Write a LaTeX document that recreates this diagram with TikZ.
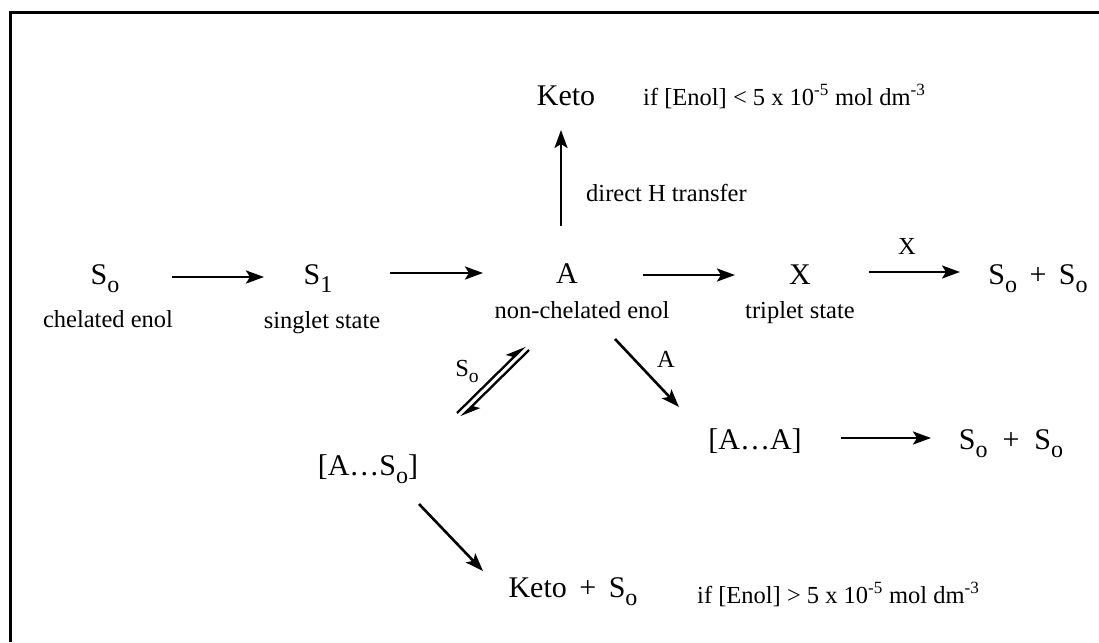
\documentclass[tikz,border=0pt]{standalone}
\usepackage{fontspec}
\usepackage{graphicx}
\setmainfont{Liberation Serif}
\usetikzlibrary{arrows.meta}
\tikzset{
  big/.style={inner sep=0pt, anchor=base, font=\fontsize{30}{32}\selectfont},
  small/.style={inner sep=0pt, anchor=base, font=\fontsize{24.5}{26}\selectfont},
  arr/.style={line width=2.6pt, -{Stealth[length=18pt,width=13pt,inset=4pt]}},
  harp/.style={line width=2.3pt, -{Stealth[left,length=17pt,width=14pt,inset=4pt]}},
  frame/.style={line width=3pt}
}
\newcommand{\sbs}[1]{\raisebox{-0.28em}{\scalebox{0.8}{#1}}}
\newcommand{\So}{S\sbs{o}}
\begin{document}
\begin{tikzpicture}[x=1pt,y=-1pt]
\useasboundingbox (0,0) rectangle (1099,642);
\draw[frame] (10,642) -- (10,13) -- (1099,13);

% main row
\node[big] (so) at (105,284) {\So};
\node[small] (soL) at (108,327) {chelated enol};
\node[big] (s1) at (318,284) {S\sbs{1}};
\node[small] (s1L) at (322,328) {singlet state};
\node[big] (a) at (567,283) {A};
\node[small] (aL) at (582,318) {non-chelated enol};
\node[big] (x) at (800,284) {X};
\node[small] (xL) at (800,318) {triplet state};
\node[big] (sosoA) at (1038,284) {\So\ \,+\, \So};
\node[small] (xlab) at (907,254) {X};

% top
\node[big] (keto) at (566,105) {Keto};
\node[small, anchor=base west] (condA) at (643,105) {if [Enol] {<} 5 x 10\textsuperscript{-5} mol dm\textsuperscript{-3}};
\node[small, anchor=base west] (dht) at (586,201) {direct H transfer};

% lower right
\node[big] (aa) at (755,449) {[A\ldots A]};
\node[big] (sosoB) at (1011,449) {\So\ \ + \ \So};
\node[small] (alab) at (666,367) {A};

% lower left
\node[big] (aso) at (368,475) {[A\ldots\So]};
\node[small] (solab) at (467,376) {\So};
\node[big] (ketoso) at (573,597) {Keto \,+\, \So};
\node[small, anchor=base west] (condB) at (697,603) {if [Enol] {>} 5 x 10\textsuperscript{-5} mol dm\textsuperscript{-3}};

% arrow end points
\coordinate (p1s) at (172,277); \coordinate (p1e) at (264,277);
\coordinate (p2s) at (390,273); \coordinate (p2e) at (483,273);
\coordinate (p3s) at (643,275); \coordinate (p3e) at (735,275);
\coordinate (p4s) at (869,272); \coordinate (p4e) at (960,272);
\coordinate (p5s) at (561,226); \coordinate (p5e) at (561,130);
\coordinate (p6s) at (615,339); \coordinate (p6e) at (679,407);
\coordinate (p7s) at (841,438); \coordinate (p7e) at (931,438);
\coordinate (p8s) at (419,504); \coordinate (p8e) at (483,571);
\coordinate (e1s) at (457,413); \coordinate (e1e) at (525,346);
\coordinate (e2s) at (529,350); \coordinate (e2e) at (461,417);

\draw[arr] (p1s) -- (p1e);
\draw[arr] (p2s) -- (p2e);
\draw[arr] (p3s) -- (p3e);
\draw[arr] (p4s) -- (p4e);
\draw[arr] (p5s) -- (p5e);
\draw[arr] (p6s) -- (p6e);
\draw[arr] (p7s) -- (p7e);
\draw[arr] (p8s) -- (p8e);
\draw[harp] (e1s) -- (e1e);
\draw[harp] (e2s) -- (e2e);
\end{tikzpicture}
\end{document}
